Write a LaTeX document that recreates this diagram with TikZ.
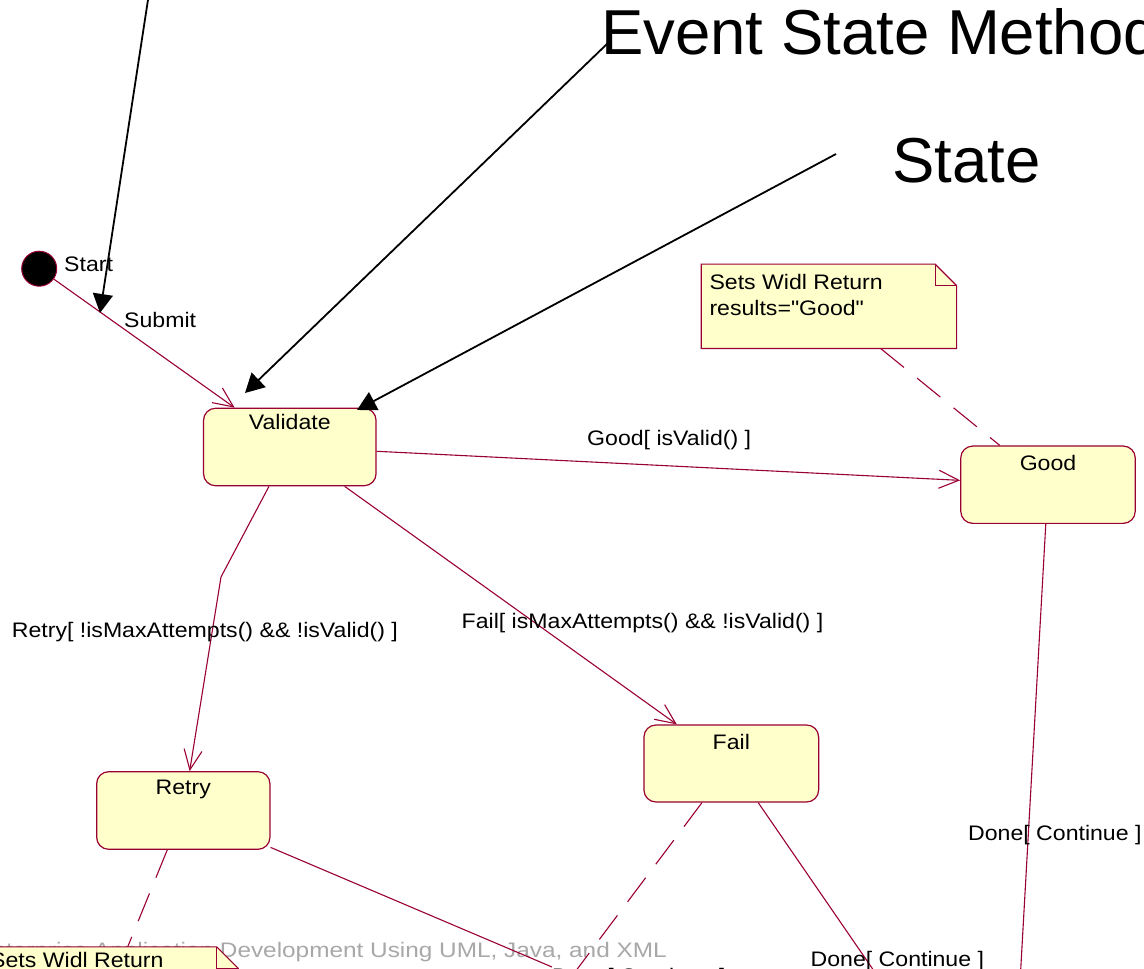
\documentclass[tikz,border=0pt]{standalone}
\usepackage{fontspec}
\setmainfont{Liberation Sans}[Ligatures=TeXOff]
\newfontfamily\umlfont{Liberation Sans}[FakeStretch=1.1,Ligatures=TeXOff]
\newfontfamily\markfont{Liberation Sans}[FakeStretch=1.16,Ligatures=TeXOff]
\usetikzlibrary{arrows.meta}
\definecolor{umlred}{RGB}{153,0,51}
\definecolor{umlfill}{RGB}{255,255,204}
\definecolor{markgray}{RGB}{168,168,168}
\newcommand\lbl{\umlfont\fontsize{21}{25}\selectfont}
\newcommand\headfont{\fontsize{63.5}{70}\selectfont}
% folded-corner outline around a note node
\newcommand\umlnote[1]{%
  \draw[noteline] (#1.south west) -- (#1.north west)
    -- ([xshift=-21.5pt]#1.north east) -- ([yshift=-21.5pt]#1.north east)
    -- (#1.south east) -- cycle;
  \draw[umlred, line width=1.1pt] ([xshift=-21.5pt]#1.north east)
    -- ([xshift=-21.5pt,yshift=-21.5pt]#1.north east)
    -- ([yshift=-21.5pt]#1.north east);}
\begin{document}
\begin{tikzpicture}[x=1pt,y=-1pt,
  trans/.style={draw=umlred, line width=1.1pt, -{Straight Barb[length=20pt,width=18pt]}},
  plain/.style={draw=umlred, line width=1.1pt},
  link/.style={draw=umlred, line width=1.1pt, dash pattern=on 30pt off 17pt},
  pointer/.style={draw=black, line width=1.8pt, -{Triangle[length=19pt,width=20pt]}},
  state/.style={draw=umlred, fill=umlfill, line width=1.2pt, rounded corners=12pt,
    inner sep=0pt, minimum width=174pt, minimum height=77pt},
  notebox/.style={inner sep=0pt, minimum width=255pt, minimum height=84pt},
  noteline/.style={draw=umlred, fill=umlfill, line width=1.1pt},
  slabel/.style={anchor=base, font=\lbl, inner sep=0pt},
  tlabel/.style={anchor=base west, font=\lbl, inner sep=0pt},
  head/.style={anchor=base west, font=\headfont, inner sep=0pt},
]
\useasboundingbox (0,0) rectangle (1144,969);
\clip (0,0) rectangle (1144,969);

% running footer
\node[anchor=base east, inner sep=0pt, text=markgray,
  font=\markfont\fontsize{21}{25}\selectfont] (footer) at (667,957)
  {Enterprise Application Development Using UML, Java, and XML};

% states
\node[circle, draw=umlred, fill=black, line width=1pt, minimum size=35pt, inner sep=0pt]
  (init) at (39.2,268.7) {};
\node[state, minimum width=172.5pt, minimum height=77.5pt] (validate) at (289.8,447) {};
\node[state, minimum width=174.5pt, minimum height=77.3pt] (good) at (1048,484.7) {};
\node[state, minimum width=174.7pt, minimum height=77pt] (fail) at (731.3,763.5) {};
\node[state, minimum width=173.3pt, minimum height=77.6pt] (retry) at (183.3,810.5) {};

\node[slabel] (validate-name) at (289.8,429.3) {Validate};
\node[slabel] (good-name) at (1048,470) {Good};
\node[slabel] (fail-name) at (731.3,749) {Fail};
\node[slabel] (retry-name) at (183.3,794) {Retry};

% notes
\node[notebox] (goodnote) at (828.9,306.3) {};
\umlnote{goodnote}
\node[tlabel] (goodnote-1) at (709.3,289) {Sets Widl Return};
\node[tlabel] (goodnote-2) at (709.3,315.5) {results="Good"};

\node[notebox] (retrynote) at (110.5,989) {};
\umlnote{retrynote}
\node[tlabel] (retrynote-1) at (-10,967) {Sets Widl Return};

% free ends of connectors leaving the drawing
\coordinate (bend) at (221,577);
\coordinate (goodout) at (1019,1000);
\coordinate (failout) at (894,1000);
\coordinate (retryout) at (552,967);
\coordinate (failnote) at (554,1000);

% transitions
\draw[trans] (init) -- (validate);
\draw[trans] (validate) -- (good);
\draw[trans] (validate) -- (fail);
\draw[trans] (validate) -- (bend) -- (retry);
\draw[plain] (good) -- (goodout);
\draw[plain] (fail) -- (failout);
\draw[plain] (retry) -- (retryout);

% note attachments
\draw[link] (goodnote) -- (good);
\draw[link] (fail) -- (failnote);
\draw[link] (retry) -- (retrynote);

% transition labels
\node[tlabel] (start-l) at (64,271.5) {Start};
\node[tlabel] (submit-l) at (124,327.5) {Submit};
\node[tlabel] (good-l) at (587,445) {Good[ isValid() ]};
\node[tlabel] (fail-l) at (461.5,628) {Fail[ isMaxAttempts() \&\& !isValid() ]};
\node[tlabel] (retry-l) at (11.7,637) {Retry[ !isMaxAttempts() \&\& !isValid() ]};
\node[tlabel] (gooddone-l) at (968,840) {Done[ Continue ]};
\node[tlabel] (faildone-l) at (810.5,966) {Done[ Continue ]};
\node[tlabel] (retrydone-l) at (552,983) {Done[ Continue ]};

% headings with pointers
\node[head] (evt) at (601,54.5) {Event State Method};
\node[head] (st) at (892,182) {State};

\coordinate (p1s) at (149.5,-10);
\coordinate (p1e) at (100,313);
\coordinate (p2s) at (608,43);
\coordinate (p2e) at (245,393);
\coordinate (p3s) at (836,154);
\coordinate (p3e) at (357,410);
\draw[pointer] (p1s) -- (p1e);
\draw[pointer] (p2s) -- (p2e);
\draw[pointer] (p3s) -- (p3e);
\end{tikzpicture}
\end{document}
